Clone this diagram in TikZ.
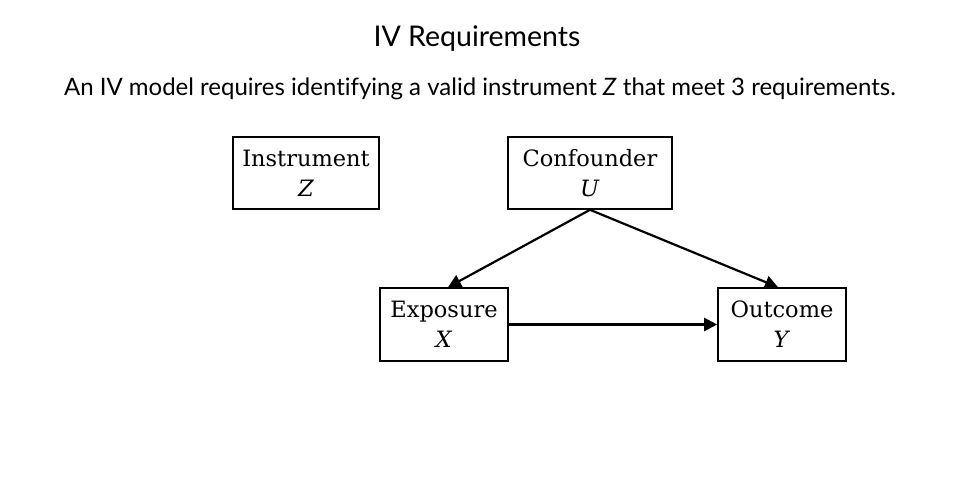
\documentclass[tikz,border=0pt]{standalone}
\usepackage{fontspec}
\setmainfont[Ligatures=NoCommon]{Lato}
\newfontfamily\boxfont{DejaVu Serif}
\usetikzlibrary{arrows.meta,positioning}

\begin{document}
\begin{tikzpicture}[x=1pt,y=-1pt,line width=2.2pt]
    \tikzset{varbox/.style={draw,rectangle,line width=1.6pt,inner sep=0pt,align=center,
        font=\boxfont\fontsize{22.5}{30}\selectfont}}
    \tikzset{heading/.style={inner sep=0pt,anchor=base}}
    \useasboundingbox[fill=white] (0,0) rectangle (960,480);
    % title and subtitle
    \node[heading,font=\fontsize{28.5}{32}\selectfont] (title) at (477,46) {IV Requirements};
    \node[heading,font=\fontsize{24}{28}\selectfont] (subtitle) at (480,95)
        {An IV model requires identifying a valid instrument \textit{Z} that meet 3 requirements.};
    % variables
    \node[varbox,minimum width=146pt,minimum height=72pt] (instr) at (306,173) {Instrument\\\textit{Z}};
    \node[varbox,minimum width=164pt,minimum height=72pt] (conf) at (590,173) {Confounder\\\textit{U}};
    \node[varbox,minimum width=128pt,minimum height=73pt] (expo) at (444,324.5) {Exposure\\\textit{X}};
    \node[varbox,minimum width=128pt,minimum height=73pt] (outc) at (782,324.5) {Outcome\\\textit{Y}};
    \path[-{Triangle[length=13pt,width=13pt]}]
    (conf.south)
    edge [] ([xshift=4pt]expo.north)
    edge [] ([xshift=-4pt]outc.north)
    (expo)
    edge [] (outc)
    ;
  \end{tikzpicture}
\end{document}
